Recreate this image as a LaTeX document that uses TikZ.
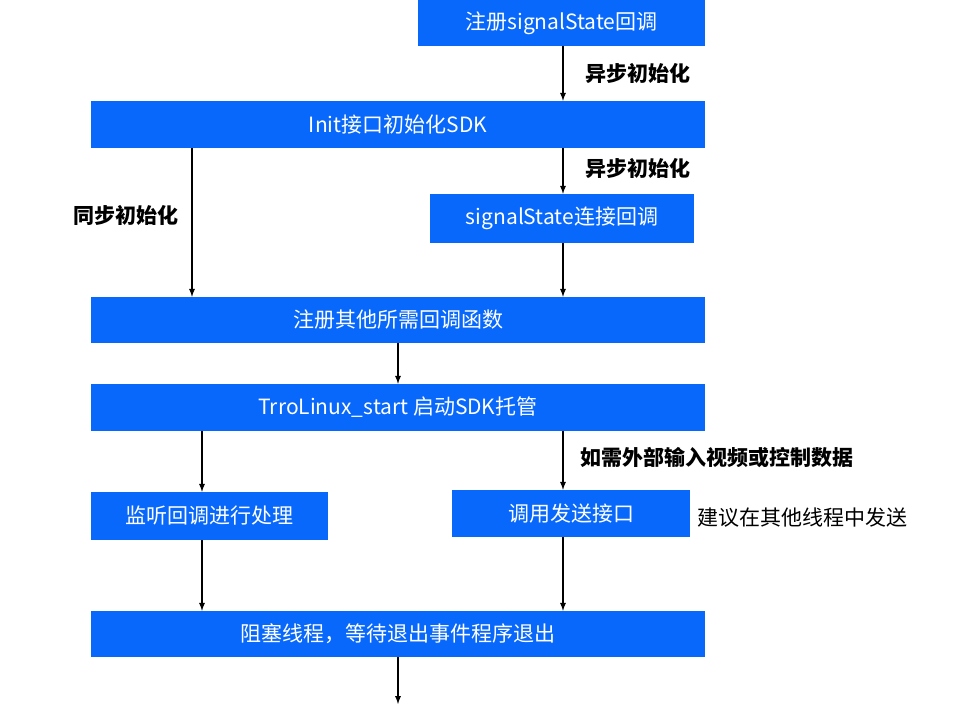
\documentclass[tikz,border=0pt]{standalone}
\usepackage{fontspec}
\setmainfont{Noto Sans CJK SC}
\usepackage{tikz}
\usetikzlibrary{shapes,arrows}
\definecolor{boxblue}{RGB}{8,104,252}

\begin{document}
\begin{tikzpicture}[x=1pt,y=-1pt,>=latex,
    blk/.style={fill=boxblue,text=white,inner sep=0,font=\fontsize{21}{25}\selectfont},
    lbl/.style={anchor=west,inner sep=0,font=\fontsize{21}{25}\selectfont\bfseries},
    flow/.style={->,line width=1.7pt}]
        \useasboundingbox (0,0) rectangle (966,714); % page
        \node[blk,minimum width=287,minimum height=46] (regstate) at (561.5,23) {注册signalState回调};
        \node[blk,minimum width=614,minimum height=47] (init) at (398,124.5) {Init接口初始化SDK};
        \node[blk,minimum width=264,minimum height=49] (conncb) at (562,218.5) {signalState连接回调};
        \node[blk,minimum width=614,minimum height=46] (regother) at (398,320) {注册其他所需回调函数};
        \node[blk,minimum width=614,minimum height=47] (start) at (398,407.5) {TrroLinux\_start 启动SDK托管};
        \node[blk,minimum width=237,minimum height=48] (listen) at (209.5,516) {监听回调进行处理};
        \node[blk,minimum width=238,minimum height=47] (send) at (571,513.5) {调用发送接口};
        \node[blk,minimum width=614,minimum height=46] (block) at (398,634) {阻塞线程，等待退出事件程序退出};
        \coordinate (rx) at (563,0); % right column
        \coordinate (lx) at (192,0); % left column, top
        \coordinate (lx2) at (202,0); % left column, bottom
        \coordinate (exit) at (398,704);
        % connectors
        \draw[flow] (regstate.south -| rx) -- (init.north -| rx);
        \node[lbl] (async1) at (585,73) {异步初始化};
        \draw[flow] (init.south -| lx) -- (regother.north -| lx);
        \node[lbl] (sync) at (73,215) {同步初始化};
        \draw[flow] (init.south -| rx) -- (conncb.north -| rx);
        \node[lbl] (async2) at (585,168) {异步初始化};
        \draw[flow] (conncb.south -| rx) -- (regother.north -| rx);
        \draw[flow] (regother) -- (start);
        \draw[flow] (start.south -| lx2) -- (listen.north -| lx2);
        \draw[flow] (start.south -| rx) -- (send.north -| rx);
        \node[lbl] (ext) at (580,458) {如需外部输入视频或控制数据};
        \node[lbl,font=\fontsize{21}{25}\selectfont] (hint) at (697,518) {建议在其他线程中发送};
        \draw[flow] (listen.south -| lx2) -- (block.north -| lx2);
        \draw[flow] (send.south -| rx) -- (block.north -| rx);
        \draw[flow] (block) -- (exit);
      \end{tikzpicture}
\end{document}
